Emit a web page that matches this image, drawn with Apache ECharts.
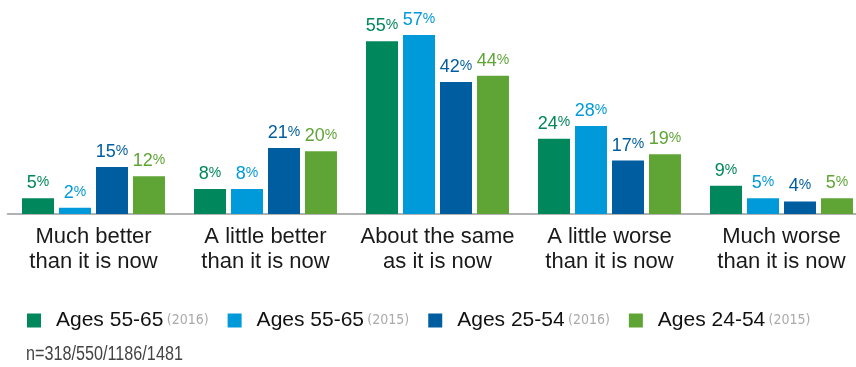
<!DOCTYPE html>
<html>
<head>
<meta charset="utf-8">
<script src="https://cdn.jsdelivr.net/npm/echarts@6/dist/echarts.min.js"></script>
<style>
html,body{margin:0;padding:0;background:#fff;overflow:hidden;}
#chart{width:870px;height:367px;}
</style>
</head>
<body>
<div id="chart"></div>
<script>
var categories = ['Much better\nthan it is now', 'A little better\nthan it is now', 'About the same\nas it is now', 'A little worse\nthan it is now', 'Much worse\nthan it is now'];
var seriesNames = ['Ages 55-65 (2016)', 'Ages 55-65 (2015)', 'Ages 25-54 (2016)', 'Ages 24-54 (2015)'];
var ages5565_2016 = [5, 8, 55, 24, 9];
var ages5565_2015 = [2, 8, 57, 28, 5];
var ages2554_2016 = [15, 21, 42, 17, 4];
var ages2454_2015 = [12, 20, 44, 19, 5];
var colors = ['#00875B', '#009ADA', '#005D9F', '#5FA536'];
var footnote = 'n=318/550/1186/1481';

var narrow = '"Liberation Sans Narrow", "DejaVu Sans Condensed", "Roboto Condensed", sans-serif';
var allData = [ages5565_2016, ages5565_2015, ages2554_2016, ages2454_2015];

var chart = echarts.init(document.getElementById('chart'));

var series = allData.map(function (d, i) {
  return {
    name: seriesNames[i],
    type: 'bar',
    data: d,
    barWidth: 32,
    barGap: '15.6%',
    itemStyle: { color: colors[i] },
    label: {
      show: true,
      position: 'top',
      distance: 6,
      formatter: function (p) { return '{n|' + p.value + '}{p|%}'; },
      rich: {
        n: { fontFamily: 'Liberation Sans', fontSize: 18, color: colors[i], verticalAlign: 'bottom', lineHeight: 18 },
        p: { fontFamily: 'Liberation Sans', fontSize: 14, color: colors[i], verticalAlign: 'bottom', lineHeight: 18, padding: [0, 0, 3, 0] }
      }
    }
  };
});

chart.setOption({
  animation: false,
  textStyle: { fontFamily: 'Liberation Sans' },
  grid: { left: 7.5, right: 2.5, top: 25.6, bottom: 153, containLabel: false },
  legend: {
    left: 22,
    top: 305,
    icon: 'rect',
    itemWidth: 14,
    itemHeight: 14,
    itemGap: 19,
    data: seriesNames,
    formatter: function (name) {
      var idx = name.indexOf(' (');
      return '{a|' + name.slice(0, idx) + '} {b|' + name.slice(idx + 1) + '}';
    },
    textStyle: {
      padding: [0, 0, 0, 10],
      rich: {
        a: { fontFamily: 'Liberation Sans', fontSize: 21, color: '#111' },
        b: { fontFamily: narrow, fontSize: 14, color: '#aaa' }
      }
    }
  },
  xAxis: {
    type: 'category',
    data: categories,
    axisLine: { lineStyle: { color: '#999', width: 1.5 } },
    axisTick: { show: false },
    axisLabel: {
      margin: 10,
      interval: 0,
      fontFamily: 'Liberation Sans',
      fontSize: 22,
      lineHeight: 25,
      color: '#1a1a1a'
    }
  },
  yAxis: {
    type: 'value',
    min: 0,
    max: 60,
    show: false,
    splitLine: { show: false }
  },
  graphic: [{
    type: 'text',
    x: 26,
    y: 344,
    scaleX: 0.81,
    style: {
      text: footnote,
      font: '20px "Liberation Sans"',
      fill: '#444'
    }
  }],
  series: series
});
</script>
</body>
</html>
